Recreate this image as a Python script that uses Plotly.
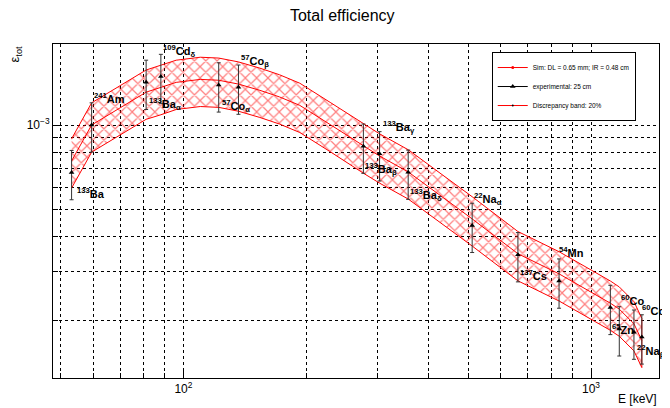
import math
import plotly.graph_objects as go

# ---------------- data ----------------
exp_energy = [53.16, 59.54, 81.0, 88.03, 122.06, 136.47, 276.4, 302.85, 356.0,
              511.0, 661.66, 834.8, 1115.5, 1173.2, 1274.5, 1332.5]
exp_eff = [6.76e-4, 1.00e-3, 1.42e-3, 1.49e-3, 1.39e-3, 1.365e-3, 8.40e-4, 7.89e-4,
           6.78e-4, 4.38e-4, 3.44e-4, 2.77e-4, 2.23e-4, 1.87e-4, 1.82e-4, 1.75e-4]
exp_err_pct = 20

sim_energy = [53.16, 59.54, 81.0, 88.03, 96.0, 110.0, 122.06, 136.47, 154.0, 172.0,
              193.0, 230.0, 276.4, 302.85, 356.0, 511.0, 661.66, 834.8, 1115.5,
              1173.2, 1274.5, 1332.5]
sim_eff = [7.44e-4, 1.00e-3, 1.31e-3, 1.36e-3, 1.42e-3, 1.455e-3, 1.445e-3, 1.40e-3,
           1.33e-3, 1.26e-3, 1.175e-3, 1.00e-3, 8.41e-4, 7.75e-4, 6.80e-4, 4.62e-4,
           3.47e-4, 2.94e-4, 2.31e-4, 2.20e-4, 1.95e-4, 1.70e-4]
band_frac = 0.20

labels = ["<sup>133</sup>Ba", "<sup>241</sup>Am", "<sup>133</sup>Ba<sub>α</sub>",
          "<sup>109</sup>Cd<sub>δ</sub>", "<sup>57</sup>Co<sub>α</sub>", "<sup>57</sup>Co<sub>β</sub>",
          "<sup>133</sup>Ba<sub>β</sub>", "<sup>133</sup>Ba<sub>γ</sub>", "<sup>133</sup>Ba<sub>δ</sub>",
          "<sup>22</sup>Na<sub>α</sub>", "<sup>137</sup>Cs", "<sup>54</sup>Mn",
          "<sup>65</sup>Zn", "<sup>60</sup>Co", "<sup>22</sup>Na<sub>β</sub>", "<sup>60</sup>Co<sub>β</sub>"]
# label offsets in pixels (x, y) relative to each experimental point
label_dx = [3, 0, 1, 0, 1, 1, 0, 1, 0, 0, 0, -2, 0, 0, 1, -2]
label_dy = [-20, 27, -22, 26, -21, 26, -23, 27, -23, 26, -20, 29, -22, 29, -19, 26]

x_tick_major = [100, 1000]
x_tick_text = ["10<sup>2</sup>", "10<sup>3</sup>"]
x_tick_minor = [50, 60, 70, 80, 90, 200, 300, 400, 500, 600, 700, 800, 900]
y_tick_major = [1e-3]
y_tick_text = ["10<sup>−3</sup>"]
y_tick_minor = [2e-4, 3e-4, 4e-4, 5e-4, 6e-4, 7e-4, 8e-4, 9e-4]

FONT = "Liberation Sans, Arial, Helvetica, sans-serif"

fig = go.Figure()

# discrepancy band
band_up = [v * (1 + band_frac) for v in sim_eff]
band_lo = [v * (1 - band_frac) for v in sim_eff]
fig.add_trace(go.Scatter(
    x=sim_energy + sim_energy[::-1], y=band_up + band_lo[::-1],
    fill="toself", mode="lines",
    line=dict(color="red", width=1),
    fillcolor="rgba(0,0,0,0)",
    fillpattern=dict(shape="x", fgcolor="red", bgcolor="rgba(255,255,255,0)",
                     size=8, solidity=0.28),
    showlegend=False, hoverinfo="skip"))

# simulation curve
fig.add_trace(go.Scatter(
    x=sim_energy, y=sim_eff, mode="lines",
    line=dict(color="red", width=1), showlegend=False))

# experimental points
fig.add_trace(go.Scatter(
    x=exp_energy, y=exp_eff, mode="markers",
    marker=dict(symbol="triangle-up", size=5, color="black"),
    error_y=dict(type="percent", value=exp_err_pct, color="#333333",
                 thickness=1, width=2),
    showlegend=False))

# legend-only entries
fig.add_trace(go.Scatter(x=[None], y=[None], mode="lines+markers",
                         name="Sim: DL = 0.65 mm; IR = 0.48 cm",
                         line=dict(color="red", width=1),
                         marker=dict(color="red", size=3, symbol="circle")))
fig.add_trace(go.Scatter(x=[None], y=[None], mode="lines+markers",
                         name="experimental: 25 cm",
                         line=dict(color="black", width=1),
                         marker=dict(color="black", size=5, symbol="triangle-up")))
fig.add_trace(go.Scatter(x=[None], y=[None], mode="lines+markers",
                         name="Discrepancy band: 20%",
                         line=dict(color="red", width=1),
                         marker=dict(color="black", size=2, symbol="circle")))

# isotope labels
for e, v, t, dx, dy in zip(exp_energy, exp_eff, labels, label_dx, label_dy):
    fig.add_annotation(x=math.log10(e), y=math.log10(v), xref="x", yref="y",
                       text="<b>" + t + "</b>", showarrow=False,
                       xanchor="left", yanchor="middle", xshift=dx, yshift=dy,
                       font=dict(family=FONT, size=11, color="black"))

# axis titles
fig.add_annotation(x=1.0, y=-0.035, xref="paper", yref="paper",
                   text="E [keV]", showarrow=False, xanchor="right", yanchor="top",
                   font=dict(family=FONT, size=12, color="black"))
fig.add_annotation(x=-0.062, y=1.0, xref="paper", yref="paper",
                   text="ε<sub>tot</sub>", showarrow=False, textangle=-90,
                   xanchor="center", yanchor="top",
                   font=dict(family=FONT, size=13, color="black"))

axis_common = dict(
    type="log", showline=True, linecolor="black", linewidth=1, mirror=True,
    ticks="inside", ticklen=9, tickcolor="black", tickwidth=1,
    showgrid=True, gridcolor="black", gridwidth=1, griddash="dot",
    zeroline=False, tickfont=dict(family=FONT, size=12, color="black"),
)

# page body has an 8px default margin: figure is sized to fit the window
fig.update_layout(
    width=662, height=400,
    margin=dict(l=45, r=11, t=36, b=30),
    paper_bgcolor="white", plot_bgcolor="white",
    title=dict(text="Total efficiency", x=0.505, xanchor="center", y=0.982,
               yanchor="middle", font=dict(family=FONT, size=16, color="black")),
    xaxis=dict(**axis_common, range=[1.680, 3.1668],
               tickmode="array", tickvals=x_tick_major, ticktext=x_tick_text,
               minor=dict(tickmode="array", tickvals=x_tick_minor, ticks="inside",
                          ticklen=5, tickcolor="black", showgrid=True,
                          gridcolor="black", griddash="dot", gridwidth=1)),
    yaxis=dict(**axis_common, range=[-3.9036, -2.7107],
               tickmode="array", tickvals=y_tick_major, ticktext=y_tick_text,
               minor=dict(tickmode="array", tickvals=y_tick_minor, ticks="inside",
                          ticklen=5, tickcolor="black", showgrid=True,
                          gridcolor="black", griddash="dot", gridwidth=1)),
    legend=dict(x=0.724, y=0.976, xanchor="left", yanchor="top",
                bordercolor="black", borderwidth=1, bgcolor="white",
                font=dict(family=FONT, size=6.5, color="black"),
                itemwidth=30, tracegroupgap=0),
    showlegend=True,
)

fig.write_html("out.html")
